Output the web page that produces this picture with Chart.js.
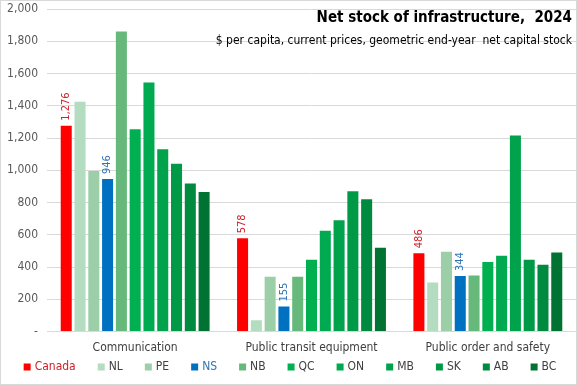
<!DOCTYPE html>
<html>
<head>
<meta charset="utf-8">
<script src="https://cdn.jsdelivr.net/npm/chart.js@4.4.1/dist/chart.umd.min.js"></script>
<style>
  html, body { margin: 0; padding: 0; background: #fff; }
  #wrap { position: relative; width: 575px; height: 383px; border: 1px solid #d9d9d9; }
</style>
</head>
<body>
<div id="wrap"><canvas id="chart" width="575" height="383"></canvas></div>
<script>
const categories = ['Communication', 'Public transit equipment', 'Public order and safety'];
const regions = ['Canada', 'NL', 'PE', 'NS', 'NB', 'QC', 'ON', 'MB', 'SK', 'AB', 'BC'];
const canada = [1276, 578, 486];
const nl = [1425, 70, 305];
const pe = [995, 340, 495];
const ns = [946, 155, 344];
const nb = [1860, 340, 348];
const qc = [1255, 445, 432];
const on = [1545, 625, 470];
const mb = [1130, 690, 1215];
const sk = [1040, 870, 445];
const ab = [918, 820, 415];
const bc = [865, 520, 490];
const yTicks = [0, 200, 400, 600, 800, 1000, 1200, 1400, 1600, 1800, 2000];

const seriesValues = [canada, nl, pe, ns, nb, qc, on, mb, sk, ab, bc];
const colors = ['#ff0000', '#b3dcc0', '#9ccfa8', '#0070c0', '#66b97a', '#00b050',
                '#00aa50', '#00a24c', '#009a47', '#008a40', '#007332'];
const labelled = { Canada: '#d0202a', NS: '#2e74b5' };
const FONT = "'DejaVu Sans Condensed', 'Liberation Sans Narrow', 'Liberation Sans', sans-serif";

const fmt = v => v.toLocaleString('en-US');

// vertical value labels above Canada and NS bars
const barLabels = {
    id: 'barLabels',
    afterDatasetsDraw(chart) {
        const ctx = chart.ctx;
        chart.data.datasets.forEach((ds, i) => {
            const col = labelled[ds.label];
            if (!col) return;
            chart.getDatasetMeta(i).data.forEach((bar, j) => {
                ctx.save();
                ctx.translate(bar.x, bar.y - 5);
                ctx.rotate(-Math.PI / 2);
                ctx.fillStyle = col;
                ctx.font = '11px ' + FONT;
                ctx.textAlign = 'left';
                ctx.textBaseline = 'middle';
                ctx.fillText(fmt(ds.data[j]), 0, 0);
                ctx.restore();
            });
        });
    }
};

// title block sits inside the plot, top right
const titleBlock = {
    id: 'titleBlock',
    afterDraw(chart) {
        const ctx = chart.ctx;
        ctx.save();
        ctx.textAlign = 'right';
        ctx.textBaseline = 'middle';
        ctx.fillStyle = '#000';
        ctx.font = 'bold 15px ' + FONT;
        ctx.fillText('Net stock of infrastructure,  2024', 571, 17);
        ctx.font = '12px ' + FONT;
        ctx.fillText('$ per capita, current prices, geometric end-year  net capital stock', 571, 40);
        ctx.restore();
    }
};

// one-row legend along the bottom, spaced like the original
const bottomLegend = {
    id: 'bottomLegend',
    afterDraw(chart) {
        const ctx = chart.ctx;
        ctx.save();
        ctx.font = '12px ' + FONT;
        ctx.textBaseline = 'middle';
        const box = 7, gap = 4, spacing = 22, y = 366;
        const widths = regions.map(r => box + gap + ctx.measureText(r).width);
        const total = widths.reduce((a, b) => a + b, 0) + spacing * (regions.length - 1);
        let x = 289 - total / 2;
        regions.forEach((r, i) => {
            ctx.fillStyle = colors[i];
            ctx.fillRect(x, y - box / 2, box, box);
            ctx.fillStyle = labelled[r] || '#404040';
            ctx.fillText(r, x + box + gap, y);
            x += widths[i] + spacing;
        });
        ctx.restore();
    }
};

new Chart(document.getElementById('chart'), {
    type: 'bar',
    data: {
        labels: categories,
        datasets: regions.map((r, i) => ({
            label: r,
            data: seriesValues[i],
            backgroundColor: colors[i],
            barPercentage: 0.8,
            categoryPercentage: 0.86
        }))
    },
    options: {
        responsive: false,
        animation: false,
        layout: { padding: { top: 8, right: 0, left: 0, bottom: 28 } },
        scales: {
            y: {
                min: 0,
                max: 2000,
                afterBuildTicks: axis => { axis.ticks = yTicks.map(v => ({ value: v })); },
                afterFit: axis => { axis.width = 46; axis.paddingTop = 0; axis.paddingBottom = 0; },
                ticks: {
                    color: '#595959',
                    font: { size: 12, family: FONT },
                    padding: 9,
                    callback: v => v === 0 ? '-' : fmt(v)
                },
                grid: { color: '#d9d9d9', drawTicks: false },
                border: { display: false }
            },
            x: {
                ticks: { color: '#404040', font: { size: 12, family: FONT }, padding: 1 },
                grid: { display: false },
                border: { color: '#d9d9d9' }
            }
        },
        plugins: {
            legend: { display: false },
            tooltip: { enabled: false }
        }
    },
    plugins: [barLabels, titleBlock, bottomLegend]
});
</script>
</body>
</html>
